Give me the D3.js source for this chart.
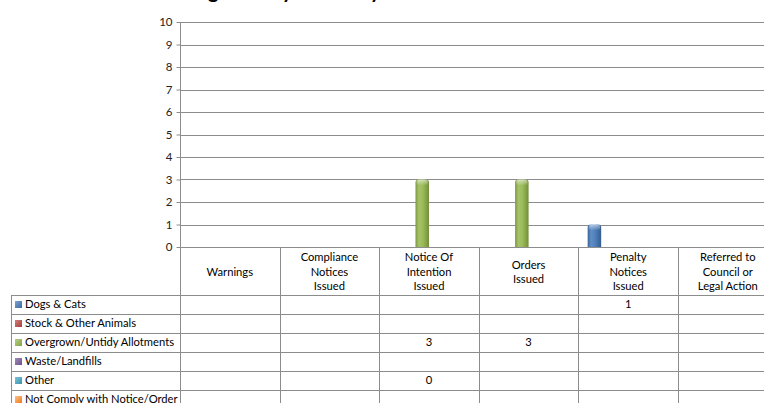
<!DOCTYPE html>
<html>
<head>
<meta charset="utf-8">
<script src="https://cdn.jsdelivr.net/npm/d3@7"></script>
<style>
  html, body { margin: 0; padding: 0; background: #fff; overflow: hidden; }
  svg { display: block; font-family: Lato, "Open Sans", sans-serif; }
</style>
</head>
<body>
<svg id="chart" width="764" height="403"></svg>
<script>
// Compliance actions by activity type
const categories = [
  "Warnings",
  "Compliance Notices Issued",
  "Notice Of Intention Issued",
  "Orders Issued",
  "Penalty Notices Issued",
  "Referred to Council or Legal Action"
];
const categoryLines = [
  ["Warnings"],
  ["Compliance", "Notices", "Issued"],
  ["Notice Of", "Intention", "Issued"],
  ["Orders", "Issued"],
  ["Penalty", "Notices", "Issued"],
  ["Referred to", "Council or", "Legal Action"]
];
const seriesNames = [
  "Dogs & Cats",
  "Stock & Other Animals",
  "Overgrown/Untidy Allotments",
  "Waste/Landfills",
  "Other",
  "Not Comply with Notice/Order"
];
const dogsCats        = [null, null, null, null, 1, null];
const stockAnimals    = [null, null, null, null, null, null];
const overgrown       = [null, null, 3, 3, null, null];
const wasteLandfills  = [null, null, null, null, null, null];
const other           = [null, null, 0, null, null, null];
const notComply       = [null, null, null, null, null, null];
const seriesValues = [dogsCats, stockAnimals, overgrown, wasteLandfills, other, notComply];
const seriesColors = ["#4f81bd", "#c0504d", "#9bbb59", "#8064a2", "#4bacc6", "#f79646"];
const yTicks = [0, 1, 2, 3, 4, 5, 6, 7, 8, 9, 10];
const chartTitle = "Monitoring Activity Summary";

const svg = d3.select("#chart");
const gridColor = "#8c8c8c";
const plotLeft = 180, plotRight = 777.6, plotTop = 22, plotBottom = 247;
const headerBottom = 295, rowH = 19, legendLeft = 11;

const x = d3.scaleBand().domain(categories).range([plotLeft, plotRight]).padding(0);
const pad = x.bandwidth() * 0.093;
const x1 = d3.scaleBand().domain(seriesNames).range([pad, x.bandwidth() - pad]).padding(0);
const y = d3.scaleLinear().domain([0, 10]).range([plotBottom, plotTop]);

// gradients for the rounded column look
const defs = svg.append("defs");
seriesColors.forEach((c, i) => {
  const base = d3.hsl(c);
  const g = defs.append("linearGradient").attr("id", "grad" + i)
    .attr("x1", "0%").attr("x2", "100%").attr("y1", "0%").attr("y2", "0%");
  g.append("stop").attr("offset", "0%").attr("stop-color", base.darker(0.7));
  g.append("stop").attr("offset", "25%").attr("stop-color", base.brighter(0.25));
  g.append("stop").attr("offset", "55%").attr("stop-color", c);
  g.append("stop").attr("offset", "100%").attr("stop-color", base.darker(0.9));
  const s = defs.append("linearGradient").attr("id", "sw" + i)
    .attr("x1", "0%").attr("x2", "100%").attr("y1", "0%").attr("y2", "100%");
  s.append("stop").attr("offset", "0%").attr("stop-color", base.brighter(0.6));
  s.append("stop").attr("offset", "100%").attr("stop-color", base.darker(0.5));
});
const cap = defs.append("linearGradient").attr("id", "cap")
  .attr("x1", "0%").attr("x2", "0%").attr("y1", "0%").attr("y2", "100%");
cap.append("stop").attr("offset", "0%").attr("stop-color", "#fff").attr("stop-opacity", 0.55);
cap.append("stop").attr("offset", "100%").attr("stop-color", "#fff").attr("stop-opacity", 0);

// title (sits above the visible frame, only its descenders show)
const title = svg.append("text")
  .attr("x", 120).attr("y", -2.2)
  .attr("font-size", 20).attr("font-weight", "bold").attr("fill", "#000")
  .text(chartTitle);
try {
  const gx = title.node().getStartPositionOfChar(chartTitle.indexOf("g")).x;
  title.attr("x", 120 + (208 - gx));
} catch (e) {}

// gridlines
svg.append("g").selectAll("line").data(yTicks.filter(d => d > 0)).join("line")
  .attr("x1", plotLeft).attr("x2", plotRight)
  .attr("y1", d => Math.round(y(d)) + 0.5).attr("y2", d => Math.round(y(d)) + 0.5)
  .attr("stroke", gridColor).attr("stroke-width", 1);

// y axis
const yAxis = svg.append("g")
  .attr("transform", `translate(${plotLeft + 0.5},0)`)
  .call(d3.axisLeft(y).tickValues(yTicks).tickSize(4).tickPadding(4).tickSizeOuter(0));
yAxis.select(".domain").remove();
yAxis.selectAll(".tick line").attr("stroke", gridColor);
yAxis.selectAll(".tick text").attr("font-family", "Lato, sans-serif").attr("font-size", 11.5).attr("fill", "#222");

// bars
const barG = svg.append("g");
seriesValues.forEach((vals, si) => {
  categories.forEach((cat, ci) => {
    const v = vals[ci];
    if (v == null || v <= 0) return;
    const bx = x(cat) + x1(seriesNames[si]);
    const bw = x1.bandwidth();
    const top = y(v), bot = y(0);
    const r = 3;
    const p = d3.path();
    p.moveTo(bx, bot);
    p.lineTo(bx, top + r);
    p.quadraticCurveTo(bx, top, bx + r, top);
    p.lineTo(bx + bw - r, top);
    p.quadraticCurveTo(bx + bw, top, bx + bw, top + r);
    p.lineTo(bx + bw, bot);
    p.closePath();
    barG.append("path").attr("d", p.toString()).attr("fill", `url(#grad${si})`);
    barG.append("rect").attr("x", bx + 1).attr("y", top).attr("width", bw - 2).attr("height", 6)
      .attr("rx", 3).attr("fill", "url(#cap)");
  });
});

// zero line and axis line (continues down as table border)
svg.append("line").attr("x1", plotLeft).attr("x2", plotRight)
  .attr("y1", plotBottom + 0.5).attr("y2", plotBottom + 0.5).attr("stroke", gridColor);
svg.append("line").attr("x1", plotLeft + 0.5).attr("x2", plotLeft + 0.5)
  .attr("y1", plotTop).attr("y2", 403).attr("stroke", gridColor);

// data table
const table = svg.append("g").attr("font-size", 11.2).attr("fill", "#000");
// column separators
categories.forEach((cat, i) => {
  const cx = Math.round(x(cat) + x.bandwidth()) + 0.5;
  table.append("line").attr("x1", cx).attr("x2", cx).attr("y1", plotBottom).attr("y2", 403)
    .attr("stroke", gridColor);
});
// row separators
seriesNames.forEach((s, i) => {
  const ry = headerBottom + i * rowH + 0.5;
  table.append("line").attr("x1", legendLeft).attr("x2", plotRight).attr("y1", ry).attr("y2", ry)
    .attr("stroke", gridColor);
});
table.append("line").attr("x1", legendLeft + 0.5).attr("x2", legendLeft + 0.5)
  .attr("y1", headerBottom).attr("y2", 403).attr("stroke", gridColor);

// header labels
const lineH = 14.5;
categories.forEach((cat, i) => {
  const lines = categoryLines[i];
  const cx = x(cat) + x.bandwidth() / 2;
  const midY = (plotBottom + headerBottom) / 2 + 1;
  const t = table.append("text").attr("text-anchor", "middle");
  lines.forEach((ln, k) => {
    t.append("tspan").attr("x", cx)
      .attr("y", midY + (k - (lines.length - 1) / 2) * lineH)
      .attr("dy", "0.35em").text(ln);
  });
});

// legend rows with keys
seriesNames.forEach((s, i) => {
  const ry = headerBottom + i * rowH;
  table.append("rect").attr("x", 15).attr("y", ry + 6).attr("width", 7).attr("height", 7)
    .attr("fill", `url(#sw${i})`);
  table.append("text").attr("x", 25).attr("y", ry + rowH / 2).attr("dy", "0.35em").text(s);
  seriesValues[i].forEach((v, ci) => {
    if (v == null) return;
    table.append("text").attr("text-anchor", "middle")
      .attr("x", x(categories[ci]) + x.bandwidth() / 2)
      .attr("y", ry + rowH / 2).attr("dy", "0.35em").text(v);
  });
});
</script>
</body>
</html>
